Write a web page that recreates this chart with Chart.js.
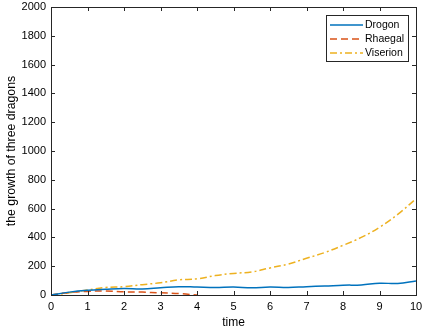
<!DOCTYPE html>
<html>
<head>
<meta charset="utf-8">
<script src="https://cdn.jsdelivr.net/npm/chart.js@4"></script>
<style>
  html, body { margin: 0; padding: 0; background: #fff; }
  #wrap { width: 425px; height: 330px; }
</style>
</head>
<body>
<div id="wrap"><canvas id="dragonChart" width="425" height="330"></canvas></div>
<script>
// time samples (0 to 10, step 0.5)
const times = [0, 0.5, 1, 1.5, 2, 2.5, 3, 3.5, 4, 4.5, 5, 5.5, 6, 6.5, 7, 7.5, 8, 8.5, 9, 9.5, 10];
const drogon = [0, 20, 33, 40, 45, 42, 50, 58, 55, 52, 55, 50, 55, 52, 58, 62, 68, 70, 82, 80, 98];
const rhaegal = [0, 18, 25, 28, 22, 20, 15, 10, 0];
const viserion = [0, 15, 35, 52, 58, 72, 85, 105, 112, 135, 150, 160, 188, 215, 255, 295, 345, 400, 470, 560, 668];
const xTicks = [0, 1, 2, 3, 4, 5, 6, 7, 8, 9, 10];
const yTicks = [0, 200, 400, 600, 800, 1000, 1200, 1400, 1600, 1800, 2000];

const toPoints = (vals) => vals.map((v, i) => ({ x: times[i], y: v }));

const FONT = "'Liberation Sans', Arial, sans-serif";

// box around the plot + inward ticks on all four sides
const matlabAxes = {
    id: 'matlabAxes',
    afterDatasetsDraw(chart) {
        const { ctx, chartArea: a, scales } = chart;
        ctx.save();
        ctx.strokeStyle = '#262626';
        ctx.lineWidth = 1;
        ctx.strokeRect(a.left + 0.5, a.top + 0.5, a.right - a.left, a.bottom - a.top);
        ctx.beginPath();
        xTicks.forEach(t => {
            const px = Math.round(scales.x.getPixelForValue(t)) + 0.5;
            ctx.moveTo(px, a.bottom); ctx.lineTo(px, a.bottom - 4);
            ctx.moveTo(px, a.top); ctx.lineTo(px, a.top + 4);
        });
        yTicks.forEach(t => {
            const py = Math.round(scales.y.getPixelForValue(t)) + 0.5;
            ctx.moveTo(a.left, py); ctx.lineTo(a.left + 4, py);
            ctx.moveTo(a.right, py); ctx.lineTo(a.right - 4, py);
        });
        ctx.stroke();
        ctx.restore();
    }
};

// legend drawn like the matlab one (line samples keep the dash style)
const boxLegend = {
    id: 'boxLegend',
    afterDraw(chart) {
        const { ctx, chartArea: a } = chart;
        const left = a.right - 90, top = a.top + 8, w = 82, h = 46;
        ctx.save();
        ctx.fillStyle = '#fff';
        ctx.fillRect(left, top, w, h);
        ctx.strokeStyle = '#262626';
        ctx.lineWidth = 1;
        ctx.strokeRect(left + 0.5, top + 0.5, w, h);
        ctx.font = '10.5px ' + FONT;
        ctx.textBaseline = 'middle';
        chart.data.datasets.forEach((ds, i) => {
            const y = top + 10 + i * 14;
            ctx.strokeStyle = ds.borderColor;
            ctx.lineWidth = 1.5;
            ctx.setLineDash(ds.borderDash || []);
            ctx.beginPath();
            ctx.moveTo(left + 4, y); ctx.lineTo(left + 37, y);
            ctx.stroke();
            ctx.setLineDash([]);
            ctx.fillStyle = '#000';
            ctx.fillText(ds.label, left + 39, y + 0.5);
        });
        ctx.restore();
    }
};

new Chart(document.getElementById('dragonChart'), {
    type: 'line',
    data: {
        datasets: [
            { label: 'Drogon', data: toPoints(drogon), borderColor: '#0072BD', borderWidth: 1.5, tension: 0.4 },
            { label: 'Rhaegal', data: toPoints(rhaegal), borderColor: '#D95319', borderWidth: 1.5, borderDash: [7, 4], tension: 0.4 },
            { label: 'Viserion', data: toPoints(viserion), borderColor: '#EDB120', borderWidth: 1.5, borderDash: [7, 3, 2, 3], tension: 0.4 }
        ]
    },
    options: {
        responsive: false,
        animation: false,
        elements: { point: { radius: 0 } },
        layout: { padding: { top: 7, right: 9, left: 0, bottom: 0 } },
        plugins: { legend: { display: false }, tooltip: { enabled: false } },
        scales: {
            x: {
                type: 'linear', min: 0, max: 10,
                afterBuildTicks: (s) => { s.ticks = xTicks.map(v => ({ value: v })); },
                afterFit: (s) => { s.height = 35; s.paddingLeft = 0; s.paddingRight = 0; },
                grid: { display: false, drawTicks: false },
                border: { display: false },
                ticks: { color: '#000', font: { family: FONT, size: 11 }, padding: 5, maxRotation: 0, callback: (v) => String(v) },
                title: { display: true, text: 'time', color: '#000', font: { family: FONT, size: 12 }, padding: { top: 0, bottom: 0 } }
            },
            y: {
                type: 'linear', min: 0, max: 2000,
                afterBuildTicks: (s) => { s.ticks = yTicks.map(v => ({ value: v })); },
                afterFit: (s) => { s.width = 51; s.paddingTop = 0; s.paddingBottom = 0; },
                grid: { display: false, drawTicks: false },
                border: { display: false },
                ticks: { color: '#000', font: { family: FONT, size: 11 }, padding: 5, callback: (v) => String(v) },
                title: { display: true, text: 'the growth of three dragons', color: '#000', font: { family: FONT, size: 12.3 }, padding: { top: 4, bottom: 0 } }
            }
        }
    },
    plugins: [matlabAxes, boxLegend]
});
</script>
</body>
</html>
